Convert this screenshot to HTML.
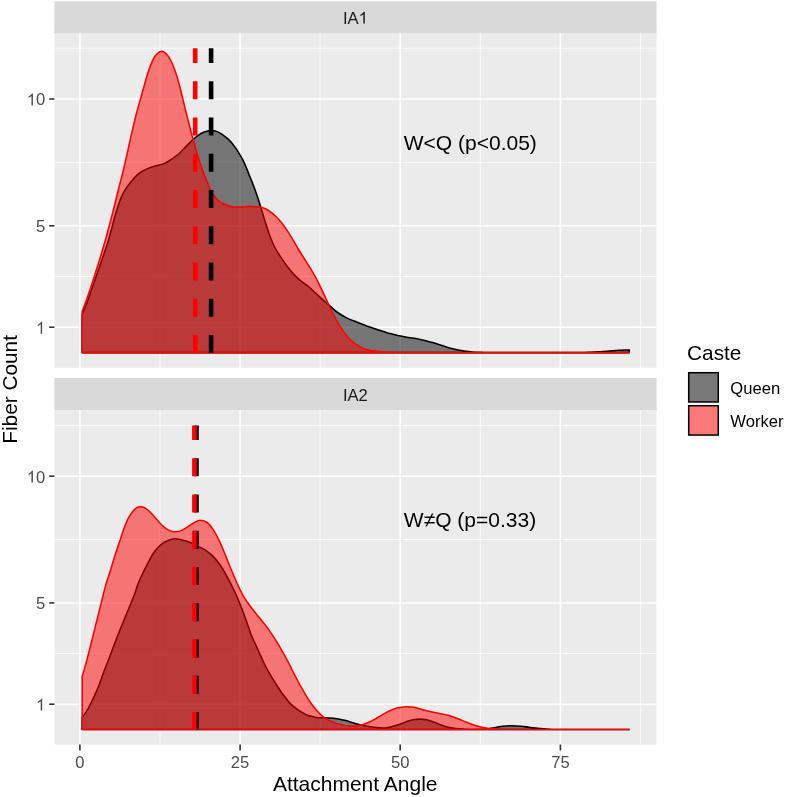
<!DOCTYPE html>
<html><head><meta charset="utf-8"><title>Attachment Angle</title>
<style>html,body{margin:0;padding:0;background:#fff}svg{display:block;will-change:transform}text{font-family:"Liberation Sans",sans-serif}</style>
</head><body>
<svg width="787" height="797" viewBox="0 0 787 797">
<rect width="787" height="797" fill="#fff"/>
<rect x="54.4" y="30.0" width="602.1" height="337.8" fill="#EBEBEB"/>
<rect x="54.4" y="1.2" width="602.1" height="31.8" fill="#D9D9D9"/>
<clipPath id="c1"><rect x="54.4" y="33.0" width="602.1" height="334.8"/></clipPath>
<g clip-path="url(#c1)">
<line x1="160.0" x2="160.0" y1="33.0" y2="367.8" stroke="#fff" stroke-width="0.8"/>
<line x1="320.1" x2="320.1" y1="33.0" y2="367.8" stroke="#fff" stroke-width="0.8"/>
<line x1="480.3" x2="480.3" y1="33.0" y2="367.8" stroke="#fff" stroke-width="0.8"/>
<line x1="640.4" x2="640.4" y1="33.0" y2="367.8" stroke="#fff" stroke-width="0.8"/>
<line x1="54.4" x2="656.5" y1="276.5" y2="276.5" stroke="#fff" stroke-width="0.8"/>
<line x1="54.4" x2="656.5" y1="162.4" y2="162.4" stroke="#fff" stroke-width="0.8"/>
<line x1="54.4" x2="656.5" y1="48.3" y2="48.3" stroke="#fff" stroke-width="0.8"/>
<line x1="79.9" x2="79.9" y1="33.0" y2="367.8" stroke="#fff" stroke-width="1.55"/>
<line x1="240.1" x2="240.1" y1="33.0" y2="367.8" stroke="#fff" stroke-width="1.55"/>
<line x1="400.2" x2="400.2" y1="33.0" y2="367.8" stroke="#fff" stroke-width="1.55"/>
<line x1="560.4" x2="560.4" y1="33.0" y2="367.8" stroke="#fff" stroke-width="1.55"/>
<line x1="54.4" x2="656.5" y1="327.2" y2="327.2" stroke="#fff" stroke-width="1.55"/>
<line x1="54.4" x2="656.5" y1="225.8" y2="225.8" stroke="#fff" stroke-width="1.55"/>
<line x1="54.4" x2="656.5" y1="99.0" y2="99.0" stroke="#fff" stroke-width="1.55"/>
<path d="M82.2 352.6 L82.2 314.5 C83.0 312.4 85.1 307.7 87.2 302.0 C89.3 296.3 92.5 287.0 94.9 280.2 C97.3 273.4 99.8 266.0 101.5 261.0 C103.2 256.0 104.1 253.5 105.3 250.0 C106.5 246.5 107.5 243.5 108.6 240.0 C109.6 236.5 110.5 233.0 111.6 229.0 C112.6 225.0 113.8 220.0 114.9 216.2 C116.0 212.4 116.9 209.5 118.1 206.1 C119.3 202.7 120.6 198.8 121.9 195.9 C123.2 193.0 124.2 191.2 125.7 188.9 C127.2 186.6 128.9 184.2 130.8 181.9 C132.7 179.6 135.1 176.8 137.2 174.9 C139.3 173.0 141.4 171.7 143.5 170.5 C145.6 169.3 147.8 168.5 149.9 167.7 C152.0 166.9 154.1 166.4 156.2 165.8 C158.3 165.2 160.5 164.9 162.6 164.1 C164.7 163.3 166.8 162.3 168.9 161.0 C171.0 159.7 173.5 157.9 175.3 156.5 C177.2 155.1 178.4 154.2 180.0 152.7 C181.6 151.2 182.7 149.9 184.8 147.7 C187.0 145.5 190.2 142.0 192.9 139.6 C195.6 137.2 198.3 135.0 201.0 133.5 C203.7 132.0 206.7 131.1 209.1 130.7 C211.5 130.3 213.2 130.6 215.2 131.1 C217.2 131.6 218.6 132.0 221.3 133.9 C224.0 135.8 228.0 138.3 231.5 142.4 C235.0 146.5 239.1 152.8 242.2 158.6 C245.3 164.3 247.8 171.7 250.0 176.9 C252.2 182.1 253.4 185.3 255.1 190.0 C256.8 194.7 258.5 199.9 260.2 205.2 C261.9 210.5 263.5 216.5 265.2 221.8 C266.9 227.1 268.6 232.6 270.3 237.0 C272.0 241.4 273.5 244.9 275.4 248.5 C277.3 252.1 279.7 255.4 281.8 258.6 C283.9 261.8 286.0 264.8 288.1 267.5 C290.2 270.2 292.4 272.9 294.5 275.1 C296.6 277.3 298.7 279.2 300.8 280.9 C302.9 282.6 305.3 283.8 307.2 285.3 C309.1 286.8 310.1 287.9 312.3 290.0 C314.6 292.1 317.9 295.3 320.7 297.8 C323.4 300.3 326.1 302.5 328.8 304.9 C331.5 307.3 333.8 309.8 336.9 312.0 C339.9 314.2 343.7 316.4 347.1 318.1 C350.5 319.8 353.8 320.9 357.2 322.2 C360.6 323.5 364.0 324.9 367.4 326.2 C370.8 327.4 374.2 328.6 377.6 329.7 C381.0 330.8 384.3 331.9 387.7 332.9 C391.1 333.8 394.5 334.6 397.9 335.4 C401.3 336.1 404.6 336.8 408.0 337.4 C411.4 338.0 414.8 338.3 418.2 339.0 C421.6 339.7 425.6 340.8 428.4 341.5 C431.2 342.2 431.5 342.2 435.2 343.3 C438.9 344.4 445.4 346.9 450.5 348.2 C455.6 349.5 460.6 350.5 465.7 351.2 C470.8 351.9 475.3 352.1 481.0 352.3 C486.7 352.5 484.3 352.6 500.0 352.6 C515.7 352.6 560.4 352.6 575.0 352.6 C589.6 352.6 583.0 352.5 587.7 352.3 C592.4 352.1 597.9 351.7 603.0 351.4 C608.1 351.1 613.8 350.6 618.2 350.3 C622.6 350.1 627.4 350.0 629.2 349.9 L629.2 352.6 Z" fill="#000" fill-opacity="0.5" stroke="#000" stroke-width="1.55" stroke-linejoin="round"/>
<path d="M82.2 352.6 L82.2 311.6 C83.0 309.3 85.2 303.9 87.2 298.0 C89.2 292.1 92.0 283.6 94.3 276.4 C96.6 269.2 99.2 261.1 101.0 255.0 C102.8 248.9 104.2 244.2 105.4 240.0 C106.6 235.8 107.0 234.0 108.1 230.0 C109.2 226.0 110.1 222.7 111.8 216.2 C113.5 209.7 116.0 199.3 118.1 190.8 C120.2 182.3 122.5 173.9 124.5 165.4 C126.5 156.9 128.3 148.4 130.2 140.0 C132.1 131.6 133.9 123.4 136.0 115.2 C138.1 107.0 140.7 98.2 142.8 90.8 C144.9 83.3 146.7 76.2 148.7 70.5 C150.7 64.8 152.6 60.0 154.7 56.8 C156.8 53.6 159.2 51.4 161.4 51.2 C163.6 51.1 166.0 53.3 168.0 55.9 C170.0 58.5 171.7 62.0 173.6 66.8 C175.5 71.6 177.4 77.7 179.3 84.7 C181.2 91.8 183.3 101.0 185.3 109.1 C187.3 117.2 189.3 125.4 191.5 133.5 C193.7 141.6 196.1 150.4 198.3 157.5 C200.5 164.6 202.7 170.4 204.8 176.0 C207.0 181.6 208.9 186.7 211.2 190.8 C213.5 194.9 215.4 198.2 218.6 200.8 C221.8 203.4 226.8 205.4 230.5 206.4 C234.2 207.4 237.3 207.0 240.7 207.0 C244.1 207.0 247.1 206.3 250.8 206.4 C254.5 206.5 259.6 207.0 262.7 207.8 C265.8 208.6 267.0 209.6 269.1 211.0 C271.2 212.4 273.3 214.0 275.4 216.0 C277.5 218.0 279.7 220.3 281.8 223.0 C283.9 225.7 286.0 228.7 288.1 231.9 C290.2 235.2 292.7 239.5 294.5 242.5 C296.3 245.5 296.9 246.9 298.8 250.0 C300.7 253.1 303.5 257.4 305.9 261.2 C308.2 265.0 310.7 268.6 313.0 272.6 C315.3 276.6 317.6 281.2 319.7 285.3 C321.8 289.4 323.7 293.8 325.3 297.3 C326.9 300.8 328.3 303.9 329.5 306.5 C330.7 309.1 330.8 309.6 332.6 313.0 C334.4 316.4 337.6 322.6 340.2 326.7 C342.8 330.8 345.3 334.4 347.9 337.3 C350.4 340.2 353.0 342.4 355.5 344.2 C358.0 346.0 360.6 347.3 363.1 348.4 C365.6 349.4 368.1 350.0 370.7 350.5 C373.2 351.0 376.0 351.1 378.4 351.4 C380.8 351.6 381.4 351.8 385.0 352.0 C388.6 352.2 394.2 352.3 400.0 352.4 C405.8 352.5 381.8 352.6 420.0 352.6 C458.2 352.6 594.3 352.6 629.2 352.6 L629.2 352.6 Z" fill="#f00" fill-opacity="0.5" stroke="#f00" stroke-width="1.55" stroke-linejoin="round"/>
</g>
<rect x="54.4" y="406.9" width="602.1" height="337.7" fill="#EBEBEB"/>
<rect x="54.4" y="378.0" width="602.1" height="31.9" fill="#D9D9D9"/>
<clipPath id="c2"><rect x="54.4" y="409.9" width="602.1" height="334.7"/></clipPath>
<g clip-path="url(#c2)">
<line x1="160.0" x2="160.0" y1="409.9" y2="744.6" stroke="#fff" stroke-width="0.8"/>
<line x1="320.1" x2="320.1" y1="409.9" y2="744.6" stroke="#fff" stroke-width="0.8"/>
<line x1="480.3" x2="480.3" y1="409.9" y2="744.6" stroke="#fff" stroke-width="0.8"/>
<line x1="640.4" x2="640.4" y1="409.9" y2="744.6" stroke="#fff" stroke-width="0.8"/>
<line x1="54.4" x2="656.5" y1="653.5" y2="653.5" stroke="#fff" stroke-width="0.8"/>
<line x1="54.4" x2="656.5" y1="539.5" y2="539.5" stroke="#fff" stroke-width="0.8"/>
<line x1="54.4" x2="656.5" y1="425.5" y2="425.5" stroke="#fff" stroke-width="0.8"/>
<line x1="79.9" x2="79.9" y1="409.9" y2="744.6" stroke="#fff" stroke-width="1.55"/>
<line x1="240.1" x2="240.1" y1="409.9" y2="744.6" stroke="#fff" stroke-width="1.55"/>
<line x1="400.2" x2="400.2" y1="409.9" y2="744.6" stroke="#fff" stroke-width="1.55"/>
<line x1="560.4" x2="560.4" y1="409.9" y2="744.6" stroke="#fff" stroke-width="1.55"/>
<line x1="54.4" x2="656.5" y1="704.2" y2="704.2" stroke="#fff" stroke-width="1.55"/>
<line x1="54.4" x2="656.5" y1="602.9" y2="602.9" stroke="#fff" stroke-width="1.55"/>
<line x1="54.4" x2="656.5" y1="476.2" y2="476.2" stroke="#fff" stroke-width="1.55"/>
<path d="M82.2 729.5 L82.2 717.5 C83.2 716.0 86.1 712.3 88.2 708.5 C90.3 704.7 93.1 698.9 94.9 694.9 C96.7 690.9 97.8 688.4 99.2 684.7 C100.6 681.0 102.0 676.7 103.4 672.9 C104.8 669.1 106.3 665.6 107.7 661.9 C109.1 658.2 110.5 654.5 111.9 650.8 C113.3 647.1 114.7 643.5 116.1 639.8 C117.5 636.1 119.0 632.3 120.4 628.8 C121.8 625.3 123.2 622.0 124.6 618.6 C126.0 615.2 127.5 611.6 128.8 608.5 C130.1 605.4 131.3 602.2 132.2 600.0 C133.1 597.8 133.3 597.7 134.3 595.0 C135.3 592.3 136.5 587.9 138.1 583.9 C139.7 579.9 141.9 575.2 143.8 571.2 C145.7 567.2 147.8 563.1 149.6 559.8 C151.4 556.5 152.9 553.8 154.6 551.5 C156.3 549.2 158.0 547.4 159.7 545.8 C161.4 544.2 163.1 543.0 164.8 542.0 C166.5 541.0 168.2 540.2 169.9 539.7 C171.6 539.2 173.1 538.8 175.0 538.8 C176.9 538.8 179.0 539.2 181.3 539.7 C183.6 540.2 186.2 540.9 188.9 542.0 C191.6 543.1 194.8 544.8 197.5 546.1 C200.2 547.4 202.6 548.3 205.1 549.9 C207.6 551.5 210.1 553.4 212.6 555.9 C215.1 558.4 217.6 561.4 220.1 565.0 C222.6 568.6 225.2 573.2 227.7 577.8 C230.2 582.4 232.7 587.3 235.2 592.8 C237.7 598.3 240.3 604.7 242.7 610.9 C245.1 617.1 248.0 625.9 249.5 630.0 C251.0 634.1 250.2 632.4 251.6 635.8 C253.0 639.2 256.0 645.5 258.2 650.3 C260.4 655.1 262.6 660.4 264.8 664.8 C267.0 669.2 269.2 673.0 271.4 676.7 C273.6 680.4 275.8 683.9 278.0 687.2 C280.2 690.5 282.3 693.6 284.5 696.5 C286.7 699.4 288.9 702.2 291.1 704.4 C293.3 706.6 295.5 708.1 297.7 709.6 C299.9 711.1 302.2 712.5 304.3 713.6 C306.4 714.7 308.0 715.4 310.0 716.0 C312.0 716.6 314.0 717.1 316.1 717.4 C318.2 717.7 320.6 717.7 322.9 717.8 C325.2 717.9 327.5 718.0 329.8 718.1 C332.1 718.2 334.4 718.4 336.7 718.7 C339.0 719.0 341.2 719.6 343.5 720.1 C345.8 720.6 348.1 721.2 350.4 721.9 C352.7 722.5 354.9 723.4 357.2 724.0 C359.5 724.6 361.8 725.1 364.1 725.6 C366.4 726.1 368.3 726.3 371.0 726.7 C373.7 727.1 377.5 727.6 380.1 727.8 C382.7 728.0 384.4 728.0 386.6 727.7 C388.8 727.5 391.0 726.9 393.2 726.3 C395.4 725.7 397.6 725.0 399.8 724.2 C402.0 723.4 404.2 722.5 406.4 721.7 C408.6 721.0 410.8 720.1 413.0 719.7 C415.2 719.3 417.4 719.1 419.6 719.1 C421.8 719.1 424.1 719.3 426.3 719.7 C428.5 720.1 430.7 720.9 432.9 721.7 C435.1 722.5 437.3 723.6 439.5 724.4 C441.7 725.2 443.9 726.1 446.1 726.7 C448.3 727.3 450.5 727.6 452.7 728.0 C454.9 728.4 456.4 728.6 459.3 728.8 C462.2 729.0 466.6 729.3 470.0 729.4 C473.4 729.5 477.1 729.4 480.0 729.3 C482.9 729.2 484.8 729.0 487.4 728.7 C490.0 728.4 493.0 727.8 495.6 727.4 C498.2 727.0 500.3 726.6 503.0 726.3 C505.7 726.0 509.0 725.7 512.0 725.7 C515.0 725.7 518.0 725.9 521.0 726.2 C524.0 726.5 526.8 727.0 530.0 727.4 C533.2 727.8 536.7 728.2 540.0 728.5 C543.3 728.8 546.7 729.0 550.0 729.2 C553.3 729.4 546.8 729.5 560.0 729.5 C573.2 729.5 617.7 729.5 629.2 729.5 L629.2 729.5 Z" fill="#000" fill-opacity="0.5" stroke="#000" stroke-width="1.55" stroke-linejoin="round"/>
<path d="M82.2 729.5 L82.2 676.2 C83.0 673.3 85.4 665.8 87.2 658.9 C89.0 652.0 91.3 642.7 93.3 634.6 C95.3 626.5 97.8 616.8 99.4 610.2 C101.1 603.6 102.0 599.6 103.2 595.0 C104.4 590.4 105.2 586.7 106.4 582.7 C107.6 578.7 108.9 575.2 110.2 571.2 C111.5 567.2 112.8 562.3 114.0 558.5 C115.2 554.7 116.2 551.6 117.2 548.4 C118.2 545.2 119.2 542.6 120.3 539.5 C121.3 536.4 122.3 533.1 123.5 529.9 C124.7 526.7 125.9 523.2 127.3 520.4 C128.7 517.5 130.2 514.9 131.8 512.8 C133.4 510.7 135.2 508.7 136.8 507.7 C138.4 506.7 139.8 506.6 141.3 506.7 C142.8 506.8 144.1 507.3 145.7 508.3 C147.3 509.3 149.1 511.1 150.8 512.8 C152.5 514.5 154.2 516.6 155.9 518.5 C157.6 520.4 159.3 522.5 161.0 524.2 C162.7 525.9 164.4 527.5 166.1 528.7 C167.8 529.9 169.5 530.7 171.2 531.2 C172.9 531.7 174.5 531.9 176.2 531.8 C177.9 531.7 179.4 531.4 181.3 530.6 C183.2 529.8 185.6 528.1 187.7 526.8 C189.8 525.5 191.9 523.8 194.0 522.7 C196.1 521.6 197.8 520.2 200.0 520.2 C202.2 520.2 204.9 520.9 207.1 522.5 C209.3 524.1 211.2 526.6 213.2 529.6 C215.2 532.6 217.3 536.6 219.3 540.8 C221.3 545.0 223.4 550.1 225.4 555.0 C227.4 559.9 229.0 564.3 231.5 570.3 C234.0 576.3 237.9 585.6 240.6 590.9 C243.2 596.2 245.1 598.9 247.4 602.3 C249.7 605.7 252.0 608.6 254.3 611.5 C256.6 614.4 258.9 617.0 261.2 619.9 C263.5 622.8 265.7 625.4 268.0 628.6 C270.3 631.8 272.6 635.3 274.9 638.9 C277.2 642.5 279.5 646.3 281.8 650.3 C284.1 654.3 286.3 658.5 288.6 662.9 C290.9 667.3 293.2 672.3 295.5 676.7 C297.8 681.1 300.0 685.2 302.3 689.2 C304.6 693.2 306.9 697.3 309.2 700.7 C311.5 704.1 313.8 707.1 316.1 709.8 C318.4 712.5 320.6 714.9 322.9 716.7 C325.2 718.5 327.5 719.7 329.8 720.8 C332.1 721.9 334.4 722.8 336.7 723.5 C339.0 724.2 341.7 724.7 343.5 725.1 C345.3 725.5 345.7 725.6 347.6 725.8 C349.6 726.0 352.6 726.3 355.2 726.1 C357.8 725.9 360.3 725.4 362.9 724.6 C365.4 723.8 368.0 722.7 370.5 721.5 C373.0 720.3 375.6 718.7 378.1 717.3 C380.6 715.9 383.1 714.2 385.7 712.9 C388.2 711.6 390.8 710.2 393.4 709.3 C395.9 708.4 398.7 707.7 401.0 707.3 C403.3 706.9 405.2 706.8 407.3 706.8 C409.4 706.8 411.4 706.9 413.7 707.3 C416.0 707.7 418.8 708.6 421.3 709.3 C423.8 710.0 426.7 710.8 428.9 711.3 C431.1 711.8 432.7 712.1 434.5 712.5 C436.3 712.9 437.6 713.1 439.5 713.5 C441.4 713.9 443.9 714.3 446.1 714.8 C448.3 715.3 450.5 716.0 452.7 716.7 C454.9 717.4 457.1 718.3 459.3 719.2 C461.5 720.1 463.7 721.1 465.9 722.0 C468.1 722.9 470.3 723.8 472.5 724.6 C474.7 725.4 476.9 726.0 479.1 726.6 C481.3 727.2 483.5 727.6 485.7 728.0 C487.9 728.4 489.9 728.6 492.3 728.8 C494.7 729.0 497.1 729.2 500.0 729.3 C502.9 729.4 488.5 729.5 510.0 729.5 C531.5 729.5 609.3 729.5 629.2 729.5 L629.2 729.5 Z" fill="#f00" fill-opacity="0.5" stroke="#f00" stroke-width="1.55" stroke-linejoin="round"/>
</g>
<line x1="211.1" y1="353.0" x2="211.1" y2="48.3" stroke="#000" stroke-width="4.6" stroke-dasharray="18 18.25"/>
<line x1="195.2" y1="353.0" x2="195.2" y2="48.3" stroke="#f00" stroke-width="4.6" stroke-dasharray="18 18.25"/>
<line x1="196.5" y1="730.0" x2="196.5" y2="425.5" stroke="#000" stroke-width="4.6" stroke-dasharray="18 18.25"/>
<line x1="194.4" y1="730.0" x2="194.4" y2="425.5" stroke="#f00" stroke-width="4.6" stroke-dasharray="18 18.25"/>
<text x="470.3" y="149.9" font-size="21" text-anchor="middle" fill="#000">W&lt;Q (p&lt;0.05)</text>
<text x="470" y="526.9" font-size="21" text-anchor="middle" fill="#000">W≠Q (p=0.33)</text>
<text x="342.94" y="23.6" font-size="16.6" fill="#1A1A1A">IA</text>
<path transform="translate(358.63 23.60) scale(0.00811 -0.00811)" d="M763 0H583V1147Q518 1085 412.5 1023T223 930V1104Q373 1174.5 485 1274.5T644 1469H763Z" fill="#1A1A1A"/>
<text x="355.4" y="400.5" font-size="16.6" text-anchor="middle" fill="#1A1A1A">IA2</text>
<line x1="49.2" x2="54.4" y1="327.2" y2="327.2" stroke="#333" stroke-width="1.6"/>
<path transform="translate(35.97 333.64) scale(0.00811 -0.00811)" d="M763 0H583V1147Q518 1085 412.5 1023T223 930V1104Q373 1174.5 485 1274.5T644 1469H763Z" fill="#4D4D4D"/>
<line x1="49.2" x2="54.4" y1="225.8" y2="225.8" stroke="#333" stroke-width="1.6"/>
<text x="45.2" y="232.2" font-size="16.6" text-anchor="end" fill="#4D4D4D">5</text>
<line x1="49.2" x2="54.4" y1="99.0" y2="99.0" stroke="#333" stroke-width="1.6"/>
<text x="45.2" y="105.4" font-size="16.6" text-anchor="end" fill="#4D4D4D">0</text>
<path transform="translate(26.74 105.40) scale(0.00811 -0.00811)" d="M763 0H583V1147Q518 1085 412.5 1023T223 930V1104Q373 1174.5 485 1274.5T644 1469H763Z" fill="#4D4D4D"/>
<line x1="49.2" x2="54.4" y1="704.2" y2="704.2" stroke="#333" stroke-width="1.6"/>
<path transform="translate(35.97 710.57) scale(0.00811 -0.00811)" d="M763 0H583V1147Q518 1085 412.5 1023T223 930V1104Q373 1174.5 485 1274.5T644 1469H763Z" fill="#4D4D4D"/>
<line x1="49.2" x2="54.4" y1="602.9" y2="602.9" stroke="#333" stroke-width="1.6"/>
<text x="45.2" y="609.2" font-size="16.6" text-anchor="end" fill="#4D4D4D">5</text>
<line x1="49.2" x2="54.4" y1="476.2" y2="476.2" stroke="#333" stroke-width="1.6"/>
<text x="45.2" y="482.6" font-size="16.6" text-anchor="end" fill="#4D4D4D">0</text>
<path transform="translate(26.74 482.60) scale(0.00811 -0.00811)" d="M763 0H583V1147Q518 1085 412.5 1023T223 930V1104Q373 1174.5 485 1274.5T644 1469H763Z" fill="#4D4D4D"/>
<line x1="79.9" x2="79.9" y1="744.6" y2="750.5" stroke="#333" stroke-width="1.6"/>
<text x="79.9" y="767.8" font-size="16.6" text-anchor="middle" fill="#4D4D4D">0</text>
<line x1="240.1" x2="240.1" y1="744.6" y2="750.5" stroke="#333" stroke-width="1.6"/>
<text x="240.1" y="767.8" font-size="16.6" text-anchor="middle" fill="#4D4D4D">25</text>
<line x1="400.2" x2="400.2" y1="744.6" y2="750.5" stroke="#333" stroke-width="1.6"/>
<text x="400.2" y="767.8" font-size="16.6" text-anchor="middle" fill="#4D4D4D">50</text>
<line x1="560.4" x2="560.4" y1="744.6" y2="750.5" stroke="#333" stroke-width="1.6"/>
<text x="560.4" y="767.8" font-size="16.6" text-anchor="middle" fill="#4D4D4D">75</text>
<text x="355.2" y="791.3" font-size="21" text-anchor="middle" fill="#000">Attachment Angle</text>
<text transform="translate(16.6 389.4) rotate(-90)" font-size="20.8" text-anchor="middle" fill="#000">Fiber Count</text>
<text x="687.1" y="359.5" font-size="20.8" fill="#000">Caste</text>
<rect x="687" y="371.2" width="32.6" height="32.6" fill="#F2F2F2"/>
<rect x="687" y="403.8" width="32.6" height="32.6" fill="#F2F2F2"/>
<rect x="688.75" y="372.75" width="29.5" height="29.2" fill="#000" fill-opacity="0.5" stroke="#000" stroke-width="1.5"/>
<rect x="688.75" y="405.75" width="29.5" height="29.3" fill="#f00" fill-opacity="0.5" stroke="#000" stroke-width="1.5"/>
<text x="730.3" y="394.2" font-size="16.6" fill="#000">Queen</text>
<text x="730.3" y="426.6" font-size="16.6" fill="#000">Worker</text>
</svg></body></html>
